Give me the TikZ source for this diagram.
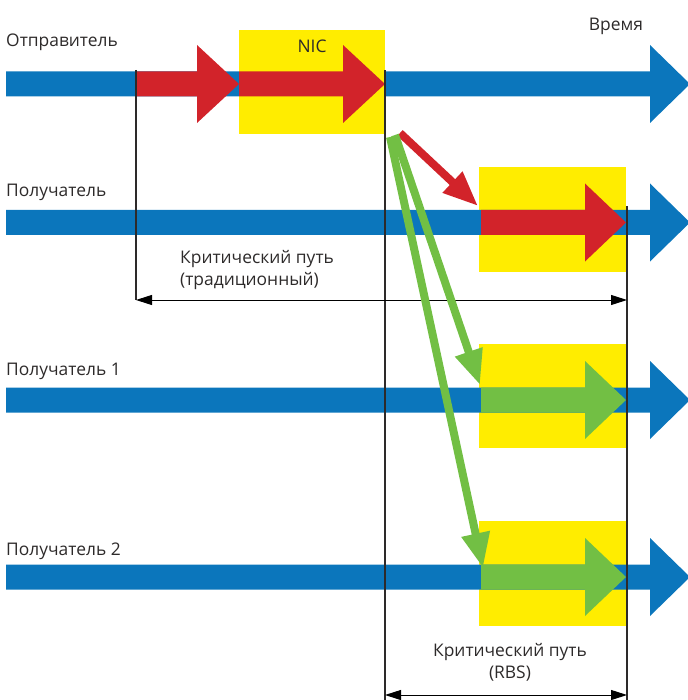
\documentclass[tikz,border=0pt]{standalone}
\usepackage{fontspec}
\setmainfont{Open Sans}
\usetikzlibrary{arrows.meta}

\definecolor{lineblue}{RGB}{11,118,188}
\definecolor{pktred}{RGB}{210,35,42}
\definecolor{pktgreen}{RGB}{114,191,68}
\definecolor{nicyellow}{RGB}{255,237,0}
\definecolor{txtgray}{RGB}{45,42,42}

% Fat horizontal arrow: colour, start x, head base x, tip x, centre y
\newcommand\fatarrow[5]{%
  \fill[#1] (#2,#5-12.5) -- (#3,#5-12.5) -- (#3,#5-39) -- (#4,#5)
            -- (#3,#5+39) -- (#3,#5+12.5) -- (#2,#5+12.5) -- cycle;}

\begin{document}
\begin{tikzpicture}[x=1pt,y=-1pt,
  lbl/.style={font=\fontsize{17.4}{22}\selectfont, text=txtgray, inner sep=0pt},
  yellowbox/.style={fill=nicyellow},
  marker/.style={draw=txtgray, line width=1.1pt},
  dimline/.style={draw=black, line width=1pt, {Triangle[length=16pt,width=10pt]}-{Triangle[length=16pt,width=10pt]}},
  msg/.style={line width=8pt, -{Triangle[length=35pt,width=27pt]}}]

\useasboundingbox (0,0) rectangle (687,700);

% NIC on the sender side
\fatarrow{lineblue}{6}{650}{690}{84}
\fill[yellowbox] (239,30) rectangle (385,134);
\node[lbl] (nic) at (312,46) {NIC};

% receiver boxes
\fill[yellowbox] (479,167) rectangle (626,272);
\fill[yellowbox] (479,344) rectangle (626,448);
\fill[yellowbox] (479,521) rectangle (626,626);

% time lines
\fatarrow{lineblue}{6}{650}{690}{222.5}
\fatarrow{lineblue}{6}{650}{690}{400}
\fatarrow{lineblue}{6}{650}{690}{577}

% send path
\fatarrow{pktred}{136}{197}{239}{84}
\fatarrow{pktred}{239}{343}{385}{84}
% receive paths
\fatarrow{pktred}{481}{585}{626}{222.5}
\fatarrow{pktgreen}{481}{585}{626}{400}
\fatarrow{pktgreen}{481}{585}{626}{577}

% time markers
\coordinate (t0top) at (136,70);
\coordinate (t0bot) at (136,300);
\coordinate (t1top) at (385,70);
\coordinate (t1bot) at (385,700);
\coordinate (t2top) at (627,206);
\coordinate (t2bot) at (627,700);
\draw[marker] (t0top) -- (t0bot);
\draw[marker] (t1top) -- (t1bot);
\draw[marker] (t2top) -- (t2bot);

% critical path spans
\coordinate (c1a) at (136,300);
\coordinate (c1b) at (627,300);
\draw[dimline] (c1a) -- (c1b);
\coordinate (c2a) at (385,695);
\coordinate (c2b) at (627,695);
\draw[dimline] (c2a) -- (c2b);

% messages leaving the NIC
\coordinate (sr) at (400,133);
\coordinate (rr) at (478,206);
\coordinate (sg1) at (395,135);
\coordinate (rg1) at (480,385);
\coordinate (sg2) at (390,137);
\coordinate (rg2) at (483,568);
\draw[msg, pktred] (sr) -- (rr);
\draw[msg, pktgreen] (sg1) -- (rg1);
\draw[msg, pktgreen] (sg2) -- (rg2);

% labels
\node[lbl, anchor=base west] (snd) at (6,47) {Отправитель};
\node[lbl, anchor=base west] (rcv) at (6,197) {Получатель};
\node[lbl, anchor=base west] (rcv1) at (6,375) {Получатель 1};
\node[lbl, anchor=base west] (rcv2) at (6,555) {Получатель 2};
\node[lbl, anchor=base] (time) at (616,31) {Время};
\node[lbl, anchor=base west, align=left] (cp1) at (180,285)
  {Критический путь\\(традиционный)};
\node[lbl, anchor=base, align=center] (cp2) at (510,678)
  {Критический путь\\(RBS)};
\end{tikzpicture}
\end{document}
